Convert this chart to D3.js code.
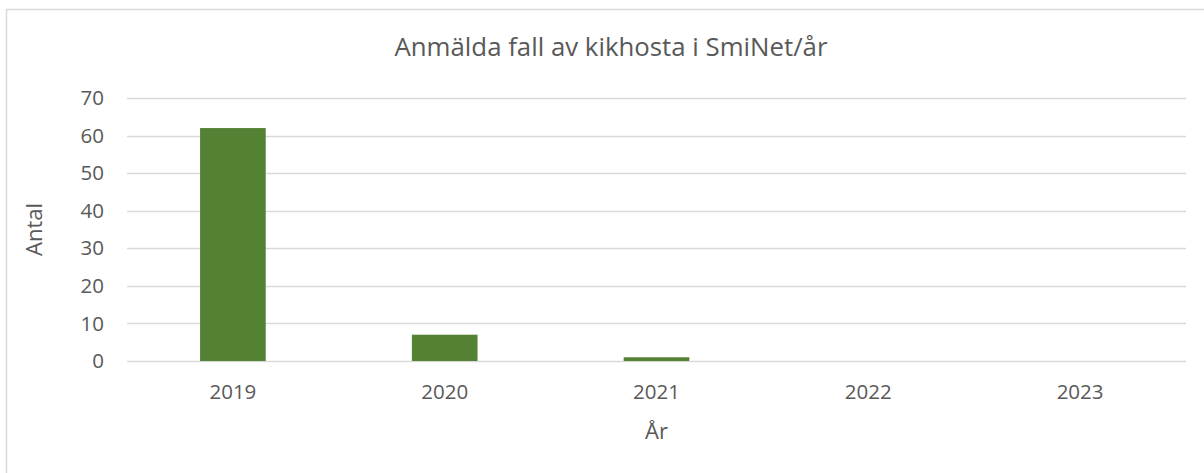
<!DOCTYPE html>
<html>
<head>
<meta charset="utf-8">
<script src="https://cdn.jsdelivr.net/npm/d3@7"></script>
<style>
  body { margin: 0; background: #fff; }
  text { font-family: "Open Sans", sans-serif; fill: #595959; }
</style>
</head>
<body>
<div id="chart"></div>
<script>
// data
const years = ["2019", "2020", "2021", "2022", "2023"];
const cases = [62, 7, 1, 0, 0];
const yTicks = [0, 10, 20, 30, 40, 50, 60, 70];

const width = 1204, height = 473;
const margin = { top: 98, right: 18, bottom: 112, left: 127 };

const svg = d3.select("#chart").append("svg")
    .attr("width", width)
    .attr("height", height);

// chart area border (cropped at right and bottom)
svg.append("rect")
    .attr("x", 6.5).attr("y", 9.5)
    .attr("width", 1220).attr("height", 480)
    .attr("fill", "none")
    .attr("stroke", "#d9d9d9")
    .attr("stroke-width", 1.5);

const x = d3.scaleBand()
    .domain(years)
    .range([margin.left, width - margin.right])
    .padding(0);

const y = d3.scaleLinear()
    .domain([0, 70])
    .range([height - margin.bottom, margin.top]);

// gridlines
svg.append("g")
    .selectAll("line")
    .data(yTicks)
    .enter().append("line")
    .attr("x1", margin.left)
    .attr("x2", width - margin.right)
    .attr("y1", d => Math.round(y(d)) + 0.5)
    .attr("y2", d => Math.round(y(d)) + 0.5)
    .attr("stroke", "#d9d9d9")
    .attr("stroke-width", 1.5);

// bars
const barW = x.bandwidth() * 0.31;
svg.append("g")
    .selectAll("rect")
    .data(years.map((yr, i) => ({ yr, v: cases[i] })))
    .enter().append("rect")
    .attr("x", d => x(d.yr) + (x.bandwidth() - barW) / 2)
    .attr("y", d => y(d.v))
    .attr("width", barW)
    .attr("height", d => y(0) - y(d.v))
    .attr("fill", "#548235");

// y axis labels
svg.append("g")
    .selectAll("text")
    .data(yTicks)
    .enter().append("text")
    .attr("x", 104)
    .attr("y", d => y(d))
    .attr("dy", "0.35em")
    .attr("text-anchor", "end")
    .style("font-size", "20.5px")
    .text(d => d);

// x axis labels
svg.append("g")
    .selectAll("text")
    .data(years)
    .enter().append("text")
    .attr("x", d => x(d) + x.bandwidth() / 2)
    .attr("y", 399)
    .attr("text-anchor", "middle")
    .style("font-size", "20.5px")
    .text(d => d);

// title
svg.append("text")
    .attr("x", 611)
    .attr("y", 56)
    .attr("text-anchor", "middle")
    .style("font-size", "25.8px")
    .text("Anmälda fall av kikhosta i SmiNet/år");

// axis titles
svg.append("text")
    .attr("x", (margin.left + width - margin.right) / 2)
    .attr("y", 439)
    .attr("text-anchor", "middle")
    .style("font-size", "22px")
    .text("År");

svg.append("text")
    .attr("transform", `translate(34, ${(margin.top + height - margin.bottom) / 2}) rotate(-90)`)
    .attr("text-anchor", "middle")
    .attr("dy", "0.35em")
    .style("font-size", "22px")
    .text("Antal");
</script>
</body>
</html>
